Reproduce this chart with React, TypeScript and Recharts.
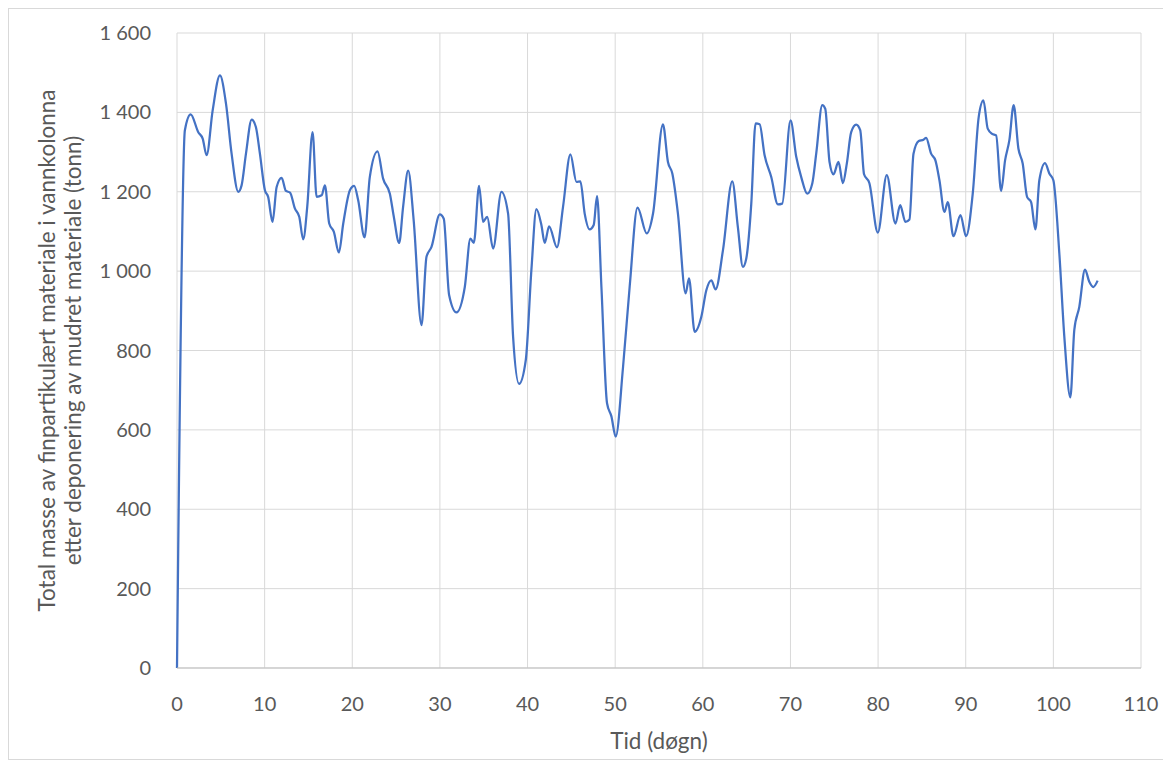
import React from 'react'
import { LineChart, Line, XAxis, YAxis, CartesianGrid, Label } from 'recharts'

const DAYS = [
    0, 0.9, 1.56, 2.43, 2.93, 3.38, 4.07, 4.9, 5.59, 6.23, 6.99, 7.37, 7.87, 8.52, 9.0, 9.46,
    10.03, 10.4, 10.9, 11.37, 11.94, 12.43, 12.9, 13.45, 13.95, 14.4, 14.86, 15.47, 15.93, 16.5, 16.88,
    17.37, 17.9, 18.47, 18.97, 19.73, 20.22, 20.67, 21.4, 22.0, 22.88, 23.52, 24.29, 24.74, 25.35, 25.8,
    26.38, 27.0, 27.9, 28.47, 29.04, 29.99, 30.44, 31.05, 31.89, 32.84, 33.48, 33.87, 34.47, 34.93, 35.39,
    36.07, 37.02, 37.78, 38.35, 39.03, 39.8, 40.44, 41.01, 41.58, 41.96, 42.46, 43.36, 44.05, 44.89, 45.58,
    46.03, 46.52, 47.09, 47.55, 47.93, 48.43, 49.07, 49.57, 50.06, 50.9, 51.65, 52.55, 53.6, 54.32, 55.45,
    56.02, 56.52, 57.16, 58.04, 58.42, 59.07, 59.83, 60.4, 60.97, 61.46, 62.3, 63.36, 64.0, 64.57, 64.96,
    65.53, 66.02, 66.48, 67.05, 67.81, 68.56, 69.06, 70.01, 70.66, 71.23, 71.92, 72.49, 72.94, 73.63, 73.97,
    74.46, 74.91, 75.48, 75.98, 76.43, 76.93, 77.5, 77.96, 78.4, 79.0, 79.97, 80.99, 81.98, 82.52, 83.12,
    83.58, 84.04, 84.64, 85.18, 85.48, 86.05, 86.54, 87.0, 87.57, 87.95, 88.6, 89.4, 90.04, 90.8, 91.48,
    92.02, 92.51, 93.01, 93.47, 94.04, 94.49, 94.98, 95.47, 96.01, 96.5, 97.0, 97.46, 97.95, 98.4, 99.05,
    99.54, 100.0, 100.68, 101.25, 101.94, 102.39, 102.96, 103.61, 104.1, 104.56, 105.05,
]

const MASS = [
    0, 1355, 1395, 1350, 1334, 1292, 1405, 1493, 1422, 1296, 1200, 1216, 1296, 1382, 1363, 1296,
    1204, 1187, 1124, 1212, 1235, 1202, 1198, 1158, 1137, 1080, 1162, 1350, 1187, 1191, 1216,
    1120, 1099, 1047, 1120, 1204, 1215, 1179, 1085, 1237, 1302, 1233, 1195, 1137, 1071, 1162,
    1253, 1130, 864, 1036, 1061, 1143, 1132, 940, 896, 960, 1082, 1071, 1215, 1124, 1137,
    1057, 1200, 1145, 835, 716, 776, 1003, 1156, 1116, 1071, 1113, 1060, 1162, 1294, 1225,
    1226, 1145, 1105, 1116, 1189, 960, 667, 634, 583, 759, 960, 1160, 1095, 1145, 1370,
    1275, 1246, 1145, 944, 982, 847, 885, 952, 977, 954, 1053, 1226, 1111, 1011, 1032,
    1170, 1372, 1370, 1292, 1237, 1168, 1170, 1380, 1288, 1237, 1195, 1221, 1296, 1418, 1409,
    1275, 1244, 1275, 1222, 1271, 1350, 1369, 1355, 1244, 1222, 1097, 1242, 1120, 1166, 1124,
    1130, 1296, 1328, 1331, 1336, 1296, 1279, 1229, 1149, 1174, 1088, 1141, 1088, 1195, 1388,
    1430, 1359, 1346, 1342, 1202, 1279, 1330, 1418, 1309, 1271, 1187, 1174, 1105, 1229, 1272,
    1246, 1229, 1045, 835, 682, 852, 910, 1004, 973, 960, 976,
]

const X_TICKS = [0, 10, 20, 30, 40, 50, 60, 70, 80, 90, 100, 110]
const Y_TICKS = [0, 200, 400, 600, 800, 1000, 1200, 1400, 1600]

const Y_LABEL = [
    'Total masse av finpartikulært materiale i vannkolonna',
    'etter deponering av mudret materiale (tonn)',
]
const X_LABEL = 'Tid (døgn)'

const data = DAYS.map((d, i) => ({ day: d, mass: MASS[i] }))

const FONT = 'Lato, "Open Sans", sans-serif'
const TEXT = '#595959'

const fmtThousands = (v: number) =>
    v >= 1000 ? `${Math.floor(v / 1000)} ${String(v % 1000).padStart(3, '0')}` : String(v)

function YTitle(props: any) {
    const { viewBox } = props
    const cy = viewBox.y + viewBox.height / 2
    const xs = [37, 63]
    return (
        <g>
            {Y_LABEL.map((line, i) => (
                <text
                    key={i}
                    x={xs[i]}
                    y={cy}
                    transform={`rotate(-90, ${xs[i]}, ${cy})`}
                    textAnchor="middle"
                    dominantBaseline="central"
                    fill={TEXT}
                    fontSize={22.5}
                    fontFamily={FONT}
                >
                    {line}
                </text>
            ))}
        </g>
    )
}

function XTitle(props: any) {
    const { viewBox } = props
    const cx = viewBox.x + viewBox.width / 2
    return (
        <text x={cx} y={731} textAnchor="middle" dominantBaseline="central" fill={TEXT} fontSize={22.5} fontFamily={FONT}>
            {X_LABEL}
        </text>
    )
}

export default function App() {
    return (
        <div style={{ width: 1157, height: 752, border: '1px solid #d9d9d9', boxSizing: 'border-box', background: '#fff' }}>
            <LineChart width={1155} height={750} data={data} margin={{ top: 24, right: 23, left: 0, bottom: 10 }}>
                <CartesianGrid stroke="#d9d9d9" strokeWidth={1} />
                <XAxis
                    dataKey="day"
                    type="number"
                    domain={[0, 110]}
                    ticks={X_TICKS}
                    interval={0}
                    height={81}
                    tickLine={false}
                    tickSize={0}
                    tickMargin={29}
                    axisLine={{ stroke: '#bfbfbf' }}
                    tick={{ fill: TEXT, fontSize: 20, fontFamily: FONT }}
                >
                    <Label content={XTitle} />
                </XAxis>
                <YAxis
                    type="number"
                    domain={[0, 1600]}
                    ticks={Y_TICKS}
                    interval={0}
                    width={168}
                    tickLine={false}
                    axisLine={false}
                    tickSize={0}
                    tickMargin={26}
                    tickFormatter={fmtThousands}
                    tick={{ fill: TEXT, fontSize: 20, fontFamily: FONT }}
                >
                    <Label content={YTitle} />
                </YAxis>
                <Line
                    type="monotone"
                    dataKey="mass"
                    stroke="#4472c4"
                    strokeWidth={2.25}
                    dot={false}
                    isAnimationActive={false}
                />
            </LineChart>
        </div>
    )
}
